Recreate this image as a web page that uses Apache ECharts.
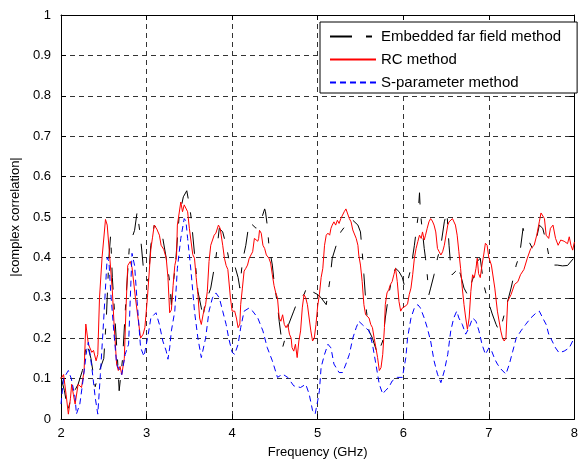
<!DOCTYPE html>
<html>
<head>
<meta charset="utf-8">
<title>complex correlation</title>
<script src="https://cdn.jsdelivr.net/npm/echarts@6/dist/echarts.min.js"></script>
<style>
  html, body { margin: 0; padding: 0; background: #fff; }
  #chart { width: 581px; height: 464px; }
</style>
</head>
<body>
<div id="chart"></div>
<script>
// values (GHz / |complex correlation|)
const seriesNames = ['Embedded far field method', 'RC method', 'S-parameter method'];

const embFreq = [2.0, 2.04, 2.08, 2.12, 2.16, 2.2, 2.25, 2.3, 2.35, 2.4, 2.45, 2.5, 2.53, 2.56, 2.58, 2.6, 2.63, 2.66, 2.68, 2.72, 2.76, 2.8, 2.86, 2.89, 2.93, 2.96, 3.0,
  3.02, 3.05, 3.09, 3.13, 3.19, 3.23, 3.27, 3.29, 3.31, 3.34, 3.38, 3.43, 3.47, 3.5, 3.52, 3.56, 3.6, 3.64, 3.66, 3.68, 3.71, 3.75, 3.79, 3.81, 3.85, 3.89, 3.93, 3.96, 4.0,
  4.03, 4.07, 4.09, 4.12, 4.16, 4.2, 4.24, 4.28, 4.32, 4.38, 4.39, 4.41, 4.43, 4.47, 4.49, 4.53, 4.55, 4.59, 4.62, 4.66, 4.72, 4.78, 4.84, 4.88, 4.93, 5.0,
  5.04, 5.1, 5.14, 5.17, 5.23, 5.27, 5.33, 5.39, 5.47, 5.5, 5.52, 5.54, 5.57, 5.6, 5.64, 5.7, 5.76, 5.79, 5.83, 5.87, 5.91, 5.95, 5.99,
  6.02, 6.05, 6.09, 6.13, 6.17, 6.19, 6.2, 6.22, 6.245, 6.26, 6.28, 6.3, 6.32, 6.36, 6.4, 6.44, 6.48, 6.51, 6.535, 6.55, 6.57, 6.61, 6.63, 6.67, 6.71, 6.75, 6.79, 6.83, 6.865, 6.9, 6.94, 6.98,
  7.04, 7.085, 7.12, 7.16, 7.2, 7.26, 7.32, 7.36, 7.4, 7.43, 7.47, 7.51, 7.55, 7.59, 7.63, 7.67, 7.7, 7.74, 7.8, 7.86, 7.92, 8.0];
const embValues = [0.103, 0.07, 0.021, 0.054, 0.07, 0.086, 0.12, 0.19, 0.15, 0.08, 0.12, 0.15, 0.25, 0.40, 0.455, 0.35, 0.25, 0.15, 0.07, 0.15, 0.30, 0.43, 0.467, 0.513, 0.45, 0.38, 0.35,
  0.34, 0.43, 0.48, 0.47, 0.447, 0.398, 0.34, 0.283, 0.33, 0.39, 0.50, 0.55, 0.565, 0.53, 0.50, 0.41, 0.316, 0.275, 0.25, 0.283, 0.30, 0.324, 0.373, 0.398, 0.472, 0.463, 0.43, 0.398, 0.40,
  0.38, 0.35, 0.324, 0.39, 0.43, 0.488, 0.48, 0.472, 0.48, 0.52, 0.513, 0.48, 0.43, 0.381, 0.34, 0.283, 0.242, 0.177, 0.2, 0.234, 0.267, 0.30, 0.308, 0.33, 0.316, 0.308,
  0.30, 0.283, 0.34, 0.398, 0.439, 0.463, 0.48, 0.496, 0.48, 0.463, 0.414, 0.357, 0.267, 0.218, 0.20, 0.16, 0.193, 0.25, 0.308, 0.35, 0.373, 0.365, 0.35,
  0.324, 0.34, 0.373, 0.43, 0.496, 0.56, 0.513, 0.472, 0.422, 0.398, 0.357, 0.308, 0.324, 0.357, 0.398, 0.43, 0.488, 0.513, 0.43, 0.39, 0.357, 0.365, 0.381, 0.357, 0.324, 0.308, 0.333, 0.357, 0.39, 0.398, 0.333, 0.30,
  0.26, 0.234, 0.218, 0.242, 0.275, 0.324, 0.381, 0.406, 0.472, 0.447, 0.439, 0.422, 0.439, 0.48, 0.472, 0.439, 0.406, 0.381, 0.381, 0.379, 0.38, 0.40];

const rcFreq = [2.0, 2.03, 2.06, 2.086, 2.11, 2.125, 2.145, 2.165, 2.2, 2.24, 2.27, 2.29, 2.32, 2.36, 2.38, 2.41, 2.43, 2.45, 2.48, 2.52, 2.54, 2.57, 2.6, 2.62, 2.65, 2.67, 2.69, 2.71, 2.74, 2.76, 2.78, 2.81, 2.83, 2.87, 2.9, 2.93, 2.96, 2.98,
  3.01, 3.05, 3.07, 3.09, 3.12, 3.15, 3.17, 3.2, 3.23, 3.25, 3.27, 3.29, 3.31, 3.33, 3.35, 3.36, 3.4, 3.42, 3.44, 3.46, 3.48, 3.5, 3.54, 3.56, 3.58, 3.6, 3.62, 3.64, 3.66, 3.67, 3.69, 3.71, 3.73, 3.75, 3.79, 3.81, 3.84, 3.86, 3.89, 3.91, 3.93, 3.95, 3.98,
  4.0, 4.03, 4.05, 4.07, 4.09, 4.1, 4.12, 4.14, 4.16, 4.18, 4.2, 4.22, 4.24, 4.26, 4.28, 4.3, 4.31, 4.32, 4.34, 4.36, 4.38, 4.4, 4.43, 4.45, 4.47, 4.49, 4.51, 4.53, 4.55, 4.57, 4.59, 4.61, 4.63, 4.65, 4.67, 4.69, 4.7, 4.72, 4.74, 4.76, 4.78, 4.8, 4.82, 4.84, 4.86, 4.88, 4.9, 4.92, 4.94, 4.96, 4.98,
  5.0, 5.02, 5.04, 5.06, 5.08, 5.1, 5.12, 5.14, 5.155, 5.17, 5.19, 5.21, 5.23, 5.25, 5.27, 5.29, 5.31, 5.33, 5.35, 5.37, 5.39, 5.41, 5.43, 5.45, 5.47, 5.48, 5.5, 5.52, 5.54, 5.56, 5.58, 5.6, 5.62, 5.64, 5.66, 5.68, 5.7, 5.72, 5.74, 5.76, 5.78, 5.79, 5.81, 5.83, 5.85, 5.87, 5.89, 5.91, 5.93, 5.95, 5.97, 5.99,
  6.01, 6.03, 6.05, 6.07, 6.09, 6.11, 6.13, 6.15, 6.17, 6.19, 6.21, 6.225, 6.245, 6.26, 6.28, 6.3, 6.32, 6.34, 6.36, 6.38, 6.4, 6.42, 6.44, 6.46, 6.48, 6.5, 6.52, 6.535, 6.555, 6.575, 6.593, 6.61, 6.63, 6.65, 6.67, 6.69, 6.71, 6.73, 6.75, 6.77, 6.79, 6.81, 6.83, 6.85, 6.865, 6.88, 6.9, 6.92, 6.94, 6.96, 6.98,
  7.0, 7.03, 7.07, 7.1, 7.14, 7.16, 7.18, 7.2, 7.22, 7.26, 7.3, 7.34, 7.37, 7.41, 7.45, 7.49, 7.53, 7.56, 7.59, 7.61, 7.63, 7.65, 7.67, 7.7, 7.72, 7.75, 7.78, 7.81, 7.84, 7.88, 7.92, 7.94, 7.96, 7.98, 8.0];
const rcValues = [0.10, 0.11, 0.06, 0.012, 0.05, 0.086, 0.06, 0.037, 0.086, 0.078, 0.12, 0.235, 0.185, 0.165, 0.17, 0.144, 0.16, 0.30, 0.40, 0.494, 0.48, 0.40, 0.317, 0.235, 0.136, 0.12, 0.13, 0.11, 0.15, 0.275, 0.38, 0.39, 0.375, 0.30, 0.25, 0.20, 0.21, 0.226,
  0.30, 0.42, 0.45, 0.48, 0.47, 0.455, 0.43, 0.42, 0.398, 0.35, 0.263, 0.27, 0.33, 0.38, 0.40, 0.48, 0.537, 0.513, 0.53, 0.533, 0.513, 0.472, 0.407, 0.398, 0.35, 0.308, 0.25, 0.234, 0.258, 0.267, 0.283, 0.316, 0.39, 0.43, 0.455, 0.46, 0.48, 0.472, 0.43, 0.398, 0.38, 0.37, 0.30,
  0.267, 0.267, 0.25, 0.226, 0.235, 0.283, 0.324, 0.366, 0.373, 0.381, 0.398, 0.398, 0.414, 0.447, 0.451, 0.44, 0.447, 0.467, 0.46, 0.43, 0.422, 0.406, 0.398, 0.386, 0.357, 0.33, 0.312, 0.30, 0.25, 0.242, 0.258, 0.234, 0.226, 0.234, 0.21, 0.20, 0.177, 0.168, 0.185, 0.152, 0.193, 0.218, 0.275, 0.308, 0.30, 0.283, 0.25, 0.218, 0.193, 0.20, 0.234,
  0.28, 0.308, 0.35, 0.373, 0.43, 0.455, 0.46, 0.455, 0.472, 0.48, 0.488, 0.48, 0.492, 0.484, 0.496, 0.50, 0.513, 0.52, 0.516, 0.496, 0.488, 0.468, 0.472, 0.447, 0.43, 0.406, 0.381, 0.34, 0.283, 0.258, 0.254, 0.25, 0.234, 0.226, 0.20, 0.177, 0.152, 0.12, 0.127, 0.16, 0.226, 0.283, 0.312, 0.32, 0.333, 0.34, 0.357, 0.373, 0.34, 0.291, 0.267, 0.275,
  0.271, 0.28, 0.285, 0.308, 0.324, 0.357, 0.398, 0.422, 0.439, 0.455, 0.447, 0.463, 0.443, 0.455, 0.472, 0.488, 0.496, 0.49, 0.48, 0.463, 0.422, 0.414, 0.406, 0.414, 0.43, 0.455, 0.48, 0.488, 0.492, 0.496, 0.492, 0.48, 0.455, 0.414, 0.373, 0.324, 0.283, 0.25, 0.222, 0.25, 0.316, 0.357, 0.35, 0.373, 0.398, 0.36, 0.35, 0.381, 0.406, 0.435, 0.43,
  0.40, 0.381, 0.324, 0.267, 0.218, 0.20, 0.193, 0.20, 0.291, 0.308, 0.333, 0.34, 0.357, 0.37, 0.398, 0.422, 0.43, 0.455, 0.488, 0.51, 0.513, 0.496, 0.455, 0.447, 0.472, 0.48, 0.447, 0.43, 0.443, 0.44, 0.434, 0.451, 0.43, 0.418, 0.438];

const sFreq = [2.0, 2.03, 2.086, 2.12, 2.165, 2.18, 2.22, 2.26, 2.3, 2.32, 2.36, 2.4, 2.43, 2.46, 2.5, 2.54, 2.56, 2.58, 2.62, 2.65, 2.71, 2.75, 2.79, 2.81, 2.83, 2.86, 2.89, 2.93, 2.97,
  3.02, 3.05, 3.11, 3.15, 3.19, 3.23, 3.25, 3.27, 3.29, 3.33, 3.36, 3.4, 3.44, 3.46, 3.48, 3.52, 3.56, 3.6, 3.64, 3.66, 3.69, 3.73, 3.77, 3.81, 3.85, 3.89, 3.93, 3.96,
  4.0, 4.03, 4.07, 4.1, 4.14, 4.2, 4.24, 4.3, 4.36, 4.41, 4.47, 4.53, 4.59, 4.65, 4.72, 4.8, 4.86, 4.9, 4.94, 4.97,
  5.0, 5.02, 5.04, 5.08, 5.12, 5.155, 5.19, 5.25, 5.29, 5.33, 5.37, 5.41, 5.45, 5.48, 5.52, 5.56, 5.6, 5.64, 5.68, 5.72, 5.76, 5.79, 5.83, 5.87, 5.93, 5.99,
  6.03, 6.05, 6.09, 6.13, 6.17, 6.2, 6.245, 6.28, 6.32, 6.36, 6.4, 6.44, 6.48, 6.52, 6.555, 6.59, 6.625, 6.65, 6.69, 6.73, 6.77, 6.81, 6.85, 6.885, 6.92, 6.96,
  7.0, 7.03, 7.07, 7.1, 7.14, 7.2, 7.24, 7.28, 7.32, 7.375, 7.43, 7.49, 7.55, 7.59, 7.63, 7.67, 7.7, 7.74, 7.78, 7.82, 7.88, 7.94, 7.98, 8.0];
const sValues = [0.037, 0.10, 0.12, 0.10, 0.053, 0.012, 0.037, 0.10, 0.17, 0.19, 0.128, 0.053, 0.012, 0.11, 0.25, 0.40, 0.39, 0.317, 0.21, 0.136, 0.11, 0.16, 0.185, 0.30, 0.41, 0.38, 0.29, 0.177, 0.155,
  0.21, 0.25, 0.263, 0.234, 0.193, 0.168, 0.148, 0.176, 0.218, 0.267, 0.373, 0.447, 0.496, 0.49, 0.447, 0.365, 0.267, 0.2, 0.152, 0.152, 0.2, 0.267, 0.30, 0.312, 0.30, 0.267, 0.234, 0.20,
  0.165, 0.16, 0.185, 0.226, 0.267, 0.275, 0.267, 0.25, 0.218, 0.177, 0.144, 0.103, 0.111, 0.103, 0.082, 0.078, 0.086, 0.062, 0.021, 0.012,
  0.045, 0.07, 0.128, 0.16, 0.185, 0.176, 0.136, 0.115, 0.115, 0.136, 0.16, 0.20, 0.226, 0.242, 0.234, 0.226, 0.218, 0.185, 0.136, 0.086, 0.062, 0.07, 0.078, 0.094, 0.103, 0.103,
  0.152, 0.2, 0.25, 0.275, 0.283, 0.275, 0.25, 0.226, 0.193, 0.144, 0.111, 0.09, 0.119, 0.16, 0.218, 0.25, 0.267, 0.25, 0.234, 0.21, 0.226, 0.25, 0.242, 0.218, 0.185, 0.16,
  0.176, 0.17, 0.148, 0.136, 0.124, 0.111, 0.136, 0.168, 0.2, 0.218, 0.234, 0.25, 0.262, 0.267, 0.25, 0.234, 0.21, 0.193, 0.176, 0.164, 0.168, 0.176, 0.193, 0.2];

const zip = (xs, ys) => xs.map((x, i) => [x, ys[i]]);

const chart = echarts.init(document.getElementById('chart'), null, { renderer: 'canvas' });

const font = 'Liberation Sans, Arial, Helvetica, sans-serif';
const gridDash = { color: '#333', width: 1, type: [5, 4] };
const yFmt = v => String(Number(v.toFixed(1)));

const option = {
  backgroundColor: '#fff',
  animation: false,
  textStyle: { fontFamily: font, color: '#000' },
  grid: { left: 61, right: 4, top: 15, bottom: 42, containLabel: false },
  legend: {
    orient: 'vertical',
    left: 320,
    top: 22,
    data: seriesNames,
    itemWidth: 46,
    itemHeight: 14,
    itemGap: 8,
    padding: [7, 16, 3, 9],
    backgroundColor: '#fff',
    borderColor: '#000',
    borderWidth: 1,
    borderRadius: 0,
    itemStyle: { opacity: 0 },
    textStyle: { fontSize: 15, color: '#000', fontFamily: font }
  },
  xAxis: [
    {
      type: 'value', min: 2, max: 8, interval: 1,
      name: 'Frequency (GHz)', nameLocation: 'middle', nameGap: 27,
      nameTextStyle: { fontSize: 13, color: '#000' },
      axisLine: { onZero: false, lineStyle: { color: '#000', width: 1 } },
      axisTick: { inside: true, length: 5, lineStyle: { color: '#000' } },
      axisLabel: { fontSize: 13, color: '#000', margin: 8 },
      splitLine: { show: true, lineStyle: gridDash }
    },
    {
      type: 'value', min: 2, max: 8, interval: 1, position: 'top',
      axisLine: { onZero: false, lineStyle: { color: '#000', width: 1 } },
      axisTick: { inside: true, length: 5, lineStyle: { color: '#000' } },
      axisLabel: { show: false },
      splitLine: { show: false }
    }
  ],
  yAxis: [
    {
      type: 'value', min: 0, max: 1, interval: 0.1,
      name: '|complex correlation|', nameLocation: 'middle', nameGap: 39,
      nameTextStyle: { fontSize: 13, color: '#000' },
      axisLine: { show: true, onZero: false, lineStyle: { color: '#000', width: 1 } },
      axisTick: { show: true, inside: true, length: 5, lineStyle: { color: '#000' } },
      axisLabel: { fontSize: 13, color: '#000', margin: 10, formatter: yFmt },
      splitLine: { show: true, lineStyle: gridDash }
    },
    {
      type: 'value', min: 0, max: 1, interval: 0.1, position: 'right',
      axisLine: { show: true, onZero: false, lineStyle: { color: '#000', width: 1 } },
      axisTick: { show: true, inside: true, length: 5, lineStyle: { color: '#000' } },
      axisLabel: { show: false },
      splitLine: { show: false }
    }
  ],
  series: [
    {
      name: seriesNames[0], type: 'line', symbol: 'none', z: 3,
      data: zip(embFreq, embValues),
      lineStyle: { color: '#000', width: 1, type: [22, 14, 6, 14] },
      itemStyle: { color: '#000' }
    },
    {
      name: seriesNames[1], type: 'line', symbol: 'none', z: 4,
      data: zip(rcFreq, rcValues),
      lineStyle: { color: '#ff0000', width: 1, type: 'solid' },
      itemStyle: { color: '#ff0000' }
    },
    {
      name: seriesNames[2], type: 'line', symbol: 'none', z: 5,
      data: zip(sFreq, sValues),
      lineStyle: { color: '#0000ff', width: 1, type: [6, 4] },
      itemStyle: { color: '#0000ff' }
    }
  ]
};

chart.setOption(option);
</script>
</body>
</html>
